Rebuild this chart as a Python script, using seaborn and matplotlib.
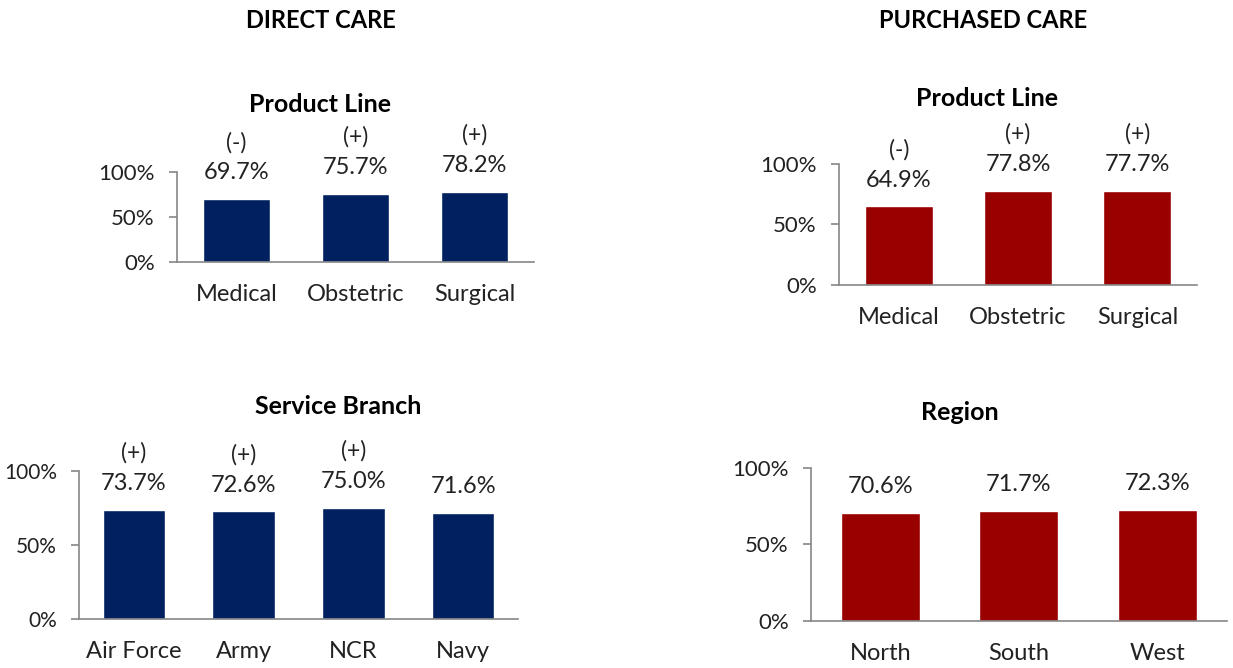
import numpy as np
import pandas as pd
import seaborn as sns
import matplotlib.pyplot as plt
from matplotlib.ticker import PercentFormatter

sns.set_style('white')
plt.rcParams['font.family'] = ['Lato', 'DejaVu Sans']

# data
dc_product = ['Medical', 'Obstetric', 'Surgical']
dc_product_vals = [69.7, 75.7, 78.2]
dc_product_sig = ['(-)', '(+)', '(+)']

pc_product = ['Medical', 'Obstetric', 'Surgical']
pc_product_vals = [64.9, 77.8, 77.7]
pc_product_sig = ['(-)', '(+)', '(+)']

dc_branch = ['Air Force', 'Army', 'NCR', 'Navy']
dc_branch_vals = [73.7, 72.6, 75.0, 71.6]
dc_branch_sig = ['(+)', '(+)', '(+)', '']

pc_region = ['North', 'South', 'West']
pc_region_vals = [70.6, 71.7, 72.3]
pc_region_sig = ['', '', '']

NAVY = '#002060'
RED = '#990000'
AXIS = '#868686'
TXT = '#222222'

fig = plt.figure(figsize=(12.33, 6.68), dpi=100)


def panel(rect, cats, vals, sig, color, ysize=16):
    ax = fig.add_axes(rect)
    df = pd.DataFrame({'cat': cats, 'val': vals})
    sns.barplot(data=df, x='cat', y='val', color=color, width=0.57,
                saturation=1, ax=ax)
    ax.set_ylim(0, 100)
    ax.set_yticks([0, 50, 100])
    ax.yaxis.set_major_formatter(PercentFormatter(decimals=0))
    ax.set_xlabel('')
    ax.set_ylabel('')
    for s in ['top', 'right']:
        ax.spines[s].set_visible(False)
    for s in ['left', 'bottom']:
        ax.spines[s].set_color(AXIS)
        ax.spines[s].set_linewidth(1.2)
    n = len(cats)
    ax.set_xticks(np.arange(-0.5, n, 1.0), minor=True)
    ax.tick_params(axis='x', which='major', length=0, pad=16,
                   labelsize=17, labelcolor=TXT)
    ax.tick_params(axis='x', which='minor', length=6, width=1.2,
                   color=AXIS, direction='out')
    ax.tick_params(axis='y', length=6, width=1.2, color=AXIS,
                   direction='out', pad=10, labelsize=ysize, labelcolor=TXT, left=True)
    for i, (v, s) in enumerate(zip(vals, sig)):
        ax.annotate(f'{v:.1f}%', (i, v), xytext=(0, 19), textcoords='offset points',
                    ha='center', va='center', fontsize=17, color=TXT,
                    annotation_clip=False)
        if s:
            ax.annotate(s, (i, v), xytext=(0, 41), textcoords='offset points',
                        ha='center', va='center', fontsize=16.5, color=TXT,
                        annotation_clip=False)
    return ax


panel([0.1436, 0.6078, 0.2895, 0.1347], dc_product, dc_product_vals, dc_product_sig, NAVY)
panel([0.6805, 0.5734, 0.2904, 0.1811], pc_product, pc_product_vals, pc_product_sig, RED)
panel([0.0641, 0.0734, 0.3560, 0.2216], dc_branch, dc_branch_vals, dc_branch_sig, NAVY, ysize=15)
panel([0.6577, 0.0704, 0.3374, 0.2290], pc_region, pc_region_vals, pc_region_sig, RED)

# headings
heads = [(321, 20, 'DIRECT CARE', 17), (983, 20, 'PURCHASED CARE', 17),
         (320, 104, 'Product Line', 18), (987, 99, 'Product Line', 18),
         (338, 406, 'Service Branch', 18), (960, 413, 'Region', 18)]
for x, y, t, fs in heads:
    fig.text(x / 1233, 1 - y / 668, t, ha='center', va='center',
             fontsize=fs, fontweight='bold', color='black')

fig.savefig('out.png', dpi=100)
